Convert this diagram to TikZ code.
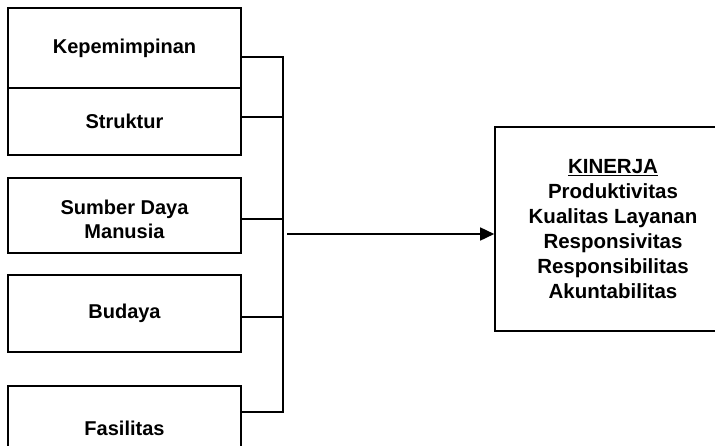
\documentclass[tikz,border=0pt]{standalone}
\usepackage{fontspec}
\setmainfont{Liberation Sans}
\usetikzlibrary{arrows.meta}
\newcommand{\lowtxt}[1]{\raisebox{-4pt}{#1}}
\begin{document}
\begin{tikzpicture}[x=1pt,y=-1pt,
  box/.style={draw, line width=1.6pt, inner sep=0pt, align=center,
    font=\bfseries\fontsize{20}{24}\selectfont},
  txt/.style={inner sep=0pt, align=center, font=\bfseries\fontsize{20}{24}\selectfont},
  link/.style={line width=1.6pt},
]
\useasboundingbox (0,0) rectangle (715,445);
\clip (0,0) rectangle (715,445);
\node[box, minimum width=233pt, minimum height=80pt] (b1) at (124.5,48) {\lowtxt{Kepemimpinan}};
\node[box, minimum width=233pt, minimum height=67pt] (b2) at (124.5,121.5) {\lowtxt{Struktur}};
\node[box, minimum width=233pt, minimum height=75pt] (b3) at (124.5,215.5) {};
\node[txt] (t3) at (124.5,219) {Sumber Daya\\Manusia};
\node[box, minimum width=233pt, minimum height=77pt] (b4) at (124.5,313.5) {\lowtxt{Budaya}};
\node[box, minimum width=233pt, minimum height=84pt] (b5) at (124.5,428) {Fasilitas};
\node[box, minimum width=236pt, minimum height=204pt, font=\bfseries\fontsize{20.5}{25}\selectfont] (kin) at (613,229)
  {\underline{KINERJA}\\Produktivitas\\Kualitas Layanan\\Responsivitas\\Responsibilitas\\Akuntabilitas};
\coordinate (j1) at (283,57);
\coordinate (j2) at (283,117);
\coordinate (j3) at (283,219);
\coordinate (j4) at (283,317);
\coordinate (j5) at (283,412);
\coordinate (a0) at (287,234);
\draw[link] (b1.east|-j1) -- (j1);
\draw[link] (b2.east|-j2) -- (j2);
\draw[link] (b3.east|-j3) -- (j3);
\draw[link] (b4.east|-j4) -- (j4);
\draw[link] (b5.east|-j5) -- (j5);
\draw[link, line cap=rect] (j1) -- (j5);
\draw[link, -{Triangle[length=14pt,width=13pt]}] (a0) -- (kin.west|-a0);
\end{tikzpicture}
\end{document}
